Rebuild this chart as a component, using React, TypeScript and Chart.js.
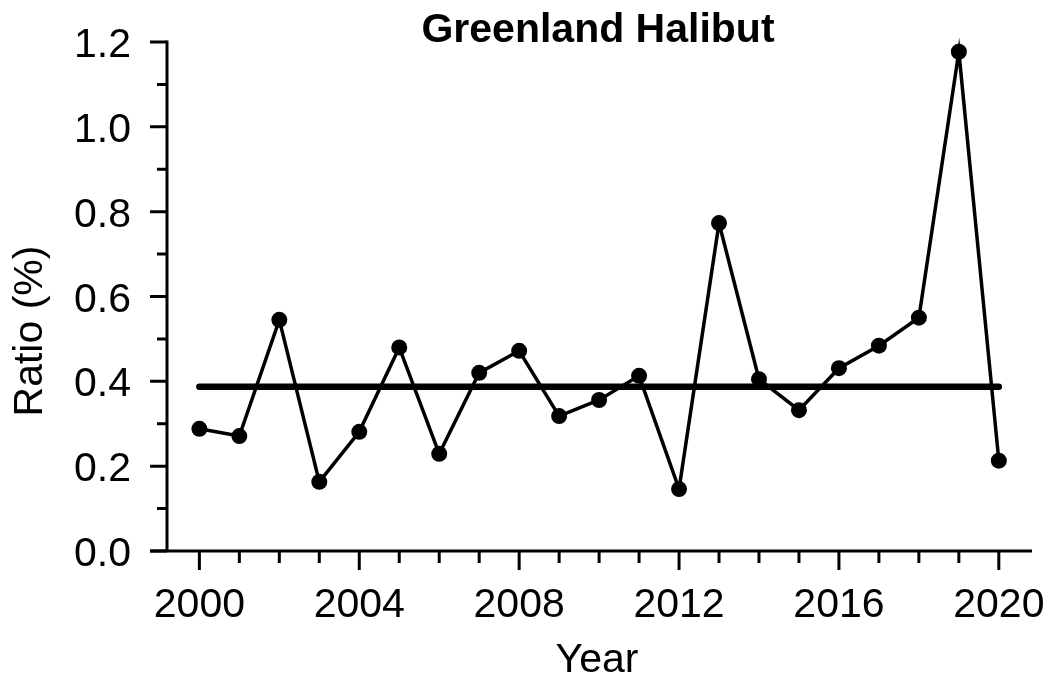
import React, { useEffect, useRef } from "react";
import { Chart, registerables } from "chart.js";

Chart.register(...registerables);

const years = [2000, 2001, 2002, 2003, 2004, 2005, 2006, 2007, 2008, 2009, 2010, 2011, 2012, 2013, 2014, 2015, 2016, 2017, 2018, 2019, 2020];
const ratios = [0.288, 0.271, 0.545, 0.163, 0.281, 0.48, 0.229, 0.42, 0.472, 0.318, 0.356, 0.413, 0.146, 0.773, 0.405, 0.332, 0.431, 0.484, 0.55, 1.177, 0.213];
const meanRatio = 0.387;
const meanSpan = [2000, 2020];

const xMajorTicks = [2000, 2004, 2008, 2012, 2016, 2020];
const xMinorTicks = [2001, 2002, 2003, 2005, 2006, 2007, 2009, 2010, 2011, 2013, 2014, 2015, 2017, 2018, 2019];
const yMajorTicks = [0, 0.2, 0.4, 0.6, 0.8, 1.0, 1.2];
const yMinorTicks = [0.1, 0.3, 0.5, 0.7, 0.9, 1.1];
const yTickLabels = ["0.0", "0.2", "0.4", "0.6", "0.8", "1.0", "1.2"];

const titleText = "Greenland Halibut";
const xTitle = "Year";
const yTitle = "Ratio (%)";

const FONT = '"Liberation Sans", Arial, Helvetica, sans-serif';

const axesPlugin = {
  id: "customAxes",
  afterDatasetsDraw(chart: any) {
    const ctx = chart.ctx as CanvasRenderingContext2D;
    const xs = chart.scales.x;
    const ys = chart.scales.y;
    const area = chart.chartArea;
    const x0 = area.left;
    const yBottom = ys.getPixelForValue(0);
    const yTop = ys.getPixelForValue(1.2);
    ctx.save();
    ctx.strokeStyle = "#000";
    ctx.fillStyle = "#000";
    ctx.lineWidth = 3;
    ctx.lineCap = "butt";
    // axis lines
    ctx.beginPath();
    ctx.moveTo(x0, yTop - 1.5);
    ctx.lineTo(x0, yBottom + 1.5);
    ctx.moveTo(x0 - 17, yBottom);
    ctx.lineTo(area.right, yBottom);
    ctx.stroke();
    // y ticks
    ctx.beginPath();
    yMajorTicks.forEach((v) => {
      const py = ys.getPixelForValue(v);
      ctx.moveTo(x0 - 17, py);
      ctx.lineTo(x0, py);
    });
    yMinorTicks.forEach((v) => {
      const py = ys.getPixelForValue(v);
      ctx.moveTo(x0 - 10, py);
      ctx.lineTo(x0, py);
    });
    // x ticks
    xMajorTicks.forEach((v) => {
      const px = xs.getPixelForValue(v);
      ctx.moveTo(px, yBottom);
      ctx.lineTo(px, yBottom + 19);
    });
    xMinorTicks.forEach((v) => {
      const px = xs.getPixelForValue(v);
      ctx.moveTo(px, yBottom);
      ctx.lineTo(px, yBottom + 12);
    });
    ctx.stroke();

    // tick labels
    ctx.font = `41px ${FONT}`;
    ctx.textBaseline = "alphabetic";
    ctx.textAlign = "right";
    yMajorTicks.forEach((v, i) => {
      const py = ys.getPixelForValue(v);
      ctx.fillText(yTickLabels[i], x0 - 36, py + 15);
    });
    ctx.textAlign = "center";
    xMajorTicks.forEach((v) => {
      const px = xs.getPixelForValue(v);
      ctx.fillText(String(v), px, 617);
    });

    // axis titles
    ctx.fillText(xTitle, 597, 672);
    ctx.save();
    ctx.translate(42, 331);
    ctx.rotate(-Math.PI / 2);
    ctx.textAlign = "center";
    ctx.fillText(yTitle, 0, 0);
    ctx.restore();

    // title
    ctx.font = `bold 41px ${FONT}`;
    ctx.textAlign = "center";
    ctx.fillText(titleText, 598, 42);
    ctx.restore();
  },
};

export default function App() {
  const canvasRef = useRef<HTMLCanvasElement | null>(null);

  useEffect(() => {
    const canvas = canvasRef.current;
    if (!canvas) return;
    const chart = new Chart(canvas, {
      type: "line",
      data: {
        datasets: [
          {
            label: "Mean",
            data: meanSpan.map((yr) => ({ x: yr, y: meanRatio })),
            borderColor: "#000",
            borderWidth: 6.5,
            borderCapStyle: "round",
            pointRadius: 0,
            fill: false,
            order: 2,
          },
          {
            label: "Ratio",
            data: years.map((yr, i) => ({ x: yr, y: ratios[i] })),
            borderColor: "#000",
            borderWidth: 3.5,
            pointRadius: 8,
            pointBackgroundColor: "#000",
            pointBorderWidth: 0,
            pointBorderColor: "#000",
            fill: false,
            tension: 0,
            order: 1,
          },
        ],
      },
      options: {
        responsive: false,
        animation: false,
        devicePixelRatio: 1,
        clip: false,
        layout: { padding: { left: 167, right: 17, top: 42, bottom: 126 } },
        plugins: {
          legend: { display: false },
          title: { display: false },
          tooltip: { enabled: false },
        },
        scales: {
          x: { type: "linear", min: 1999.19, max: 2020.83, display: false },
          y: { type: "linear", min: 0, max: 1.2, display: false },
        },
      },
      plugins: [axesPlugin],
    });
    return () => chart.destroy();
  }, []);

  return (
    <div style={{ position: "fixed", left: 0, top: 0, width: 1049, height: 677, background: "#fff" }}>
      <canvas ref={canvasRef} width={1049} height={677} style={{ width: 1049, height: 677, display: "block" }} />
    </div>
  );
}
